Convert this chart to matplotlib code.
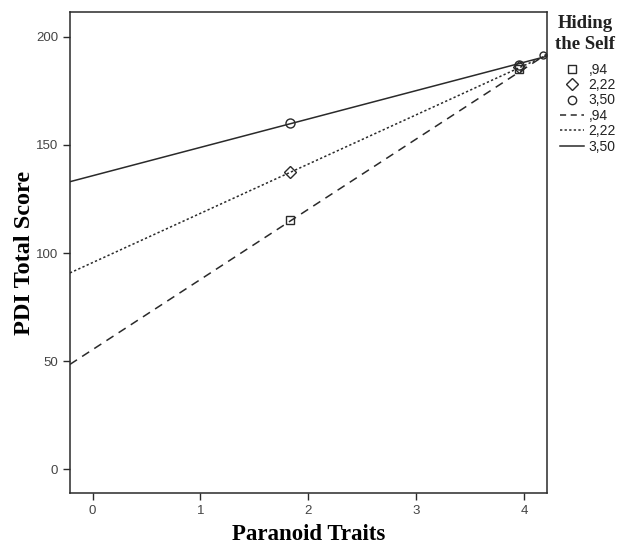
import numpy as np
import matplotlib
matplotlib.use("Agg")
from matplotlib import pyplot as plt
from matplotlib.lines import Line2D

# data
levels = [",94", "2,22", "3,50"]
point_x = [1.83, 3.95]
square_y = [115.5, 185.0]      # ,94
diamond_y = [137.5, 186.0]     # 2,22
circle_y = [160.0, 187.0]      # 3,50
end_x = [4.18]
end_y = [191.5]

line_x = [-0.21, 4.21]
dashed_y = [48.5, 192.0]       # ,94
dotted_y = [90.8, 191.5]       # 2,22
solid_y = [133.0, 191.0]       # 3,50

xticks = [0, 1, 2, 3, 4]
yticks = [0, 50, 100, 150, 200]

col = "#2a2a2a"
fig = plt.figure(figsize=(6.19, 5.45), dpi=100)
ax = fig.add_axes([0.113, 0.0954, 0.771, 0.8826])

ax.plot(line_x, dashed_y, color=col, lw=1.1, ls=(0, (5.5, 4)))
ax.plot(line_x, dotted_y, color=col, lw=1.1, ls=(0, (1.5, 1.5)))
ax.plot(line_x, solid_y, color=col, lw=1.1, ls="-")

mk = dict(mfc="none", mec=col, ls="none", mew=1.0)
ax.plot(point_x, square_y, marker="s", ms=6, **mk)
ax.plot(point_x, diamond_y, marker="D", ms=6, **mk)
ax.plot(point_x, circle_y, marker="o", ms=6.5, **mk)
ax.plot(end_x, end_y, marker="o", ms=5, **mk)

ax.set_xlim(-0.21, 4.215)
ax.set_ylim(-11, 211.5)
ax.set_xticks(xticks)
ax.set_yticks(yticks)
ax.tick_params(direction="out", length=5, width=1, color=col, labelcolor="#444444",
               labelsize=9.5)
for lab in ax.get_xticklabels() + ax.get_yticklabels():
    lab.set_family("Liberation Sans")
for s in ax.spines.values():
    s.set_color(col)
    s.set_linewidth(1.1)

ax.set_xlabel("Paranoid Traits", family="Liberation Serif", fontweight="bold",
              fontsize=16.5, labelpad=5)
ax.set_ylabel("PDI Total Score", family="Liberation Serif", fontweight="bold",
              fontsize=17.5, labelpad=1)

# legend title as a separate text so its spacing can match
fig.text(0.945, 0.973, "Hiding\nthe Self", ha="center", va="top",
         family="Liberation Serif", fontweight="bold", fontsize=13.5,
         linespacing=1.3, color="#222222")

handles = [
    Line2D([], [], marker="s", ms=6, **mk),
    Line2D([], [], marker="D", ms=6, **mk),
    Line2D([], [], marker="o", ms=6, **mk),
    Line2D([], [], color=col, lw=1.1, ls=(0, (4, 3))),
    Line2D([], [], color=col, lw=1.1, ls=(0, (1.5, 1.5))),
    Line2D([], [], color=col, lw=1.1, ls="-"),
]
leg = fig.legend(handles, levels + levels,
                 loc="upper left", bbox_to_anchor=(0.905, 0.885), frameon=False,
                 handlelength=1.7, handletextpad=0.35, labelspacing=0.1,
                 prop={"family": "Liberation Sans", "size": 10},
                 borderpad=0.0, borderaxespad=0)
for t in leg.get_texts():
    t.set_color("#222222")

fig.savefig("out.png", dpi=100)
